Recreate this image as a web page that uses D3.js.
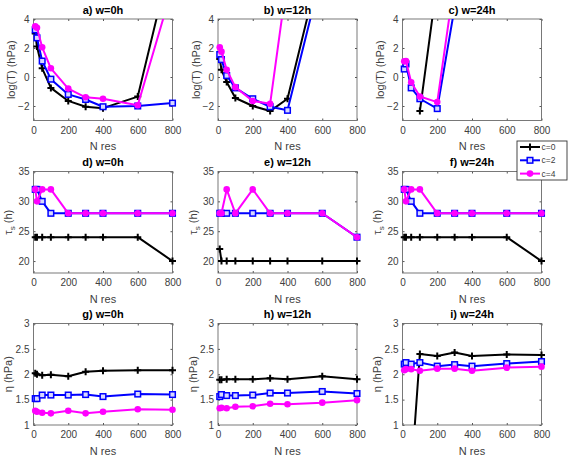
<!DOCTYPE html>
<html>
<head>
<meta charset="utf-8">
<script src="https://cdn.jsdelivr.net/npm/d3@7"></script>
<style>
  body { margin: 0; background: #fff; }
  svg { display: block; font-family: "Liberation Sans", Arial, sans-serif; }
</style>
</head>
<body>
<div id="chart"></div>
<script>
// x positions (number of reservoir units)
const nRes = [10, 20, 50, 100, 200, 300, 400, 600, 800];
const seriesNames = ['c=0', 'c=2', 'c=4'];

// row 1: log(T) (values above 4 leave the axes)
const logT_w0_c0 = [3.0, 2.1, 0.6, -0.75, -1.65, -2.05, -2.15, -1.35, 8.6];
const logT_w0_c2 = [3.25, 2.7, 1.1, -0.15, -1.2, -1.55, -2.05, -2.0, -1.8];
const logT_w0_c4 = [3.5, 3.4, 2.05, 0.6, -0.8, -1.4, -1.5, -1.95, 6.2];
const logT_w12_c0 = [1.25, 0.5, -0.35, -1.45, -2.0, -2.35, -1.5, 8.3, 18];
const logT_w12_c2 = [1.55, 1.2, 0.1, -0.75, -1.5, -2.05, -2.3, 7.3, 16];
const logT_w12_c4 = [2.05, 1.75, 0.5, -0.7, -1.65, -1.85, 6.9, 15, 22];
const logT_w24_c0 = [null, null, null, -2.35, 6.6, 15, 20, 25, 30];
const logT_w24_c2 = [0.55, 0.9, -0.75, -1.5, -2.18, 4.8, 12, 20, 25];
const logT_w24_c4 = [1.08, 1.1, -0.36, -1.35, -1.73, 6.7, 14, 20, 25];

// row 2: tau_s (h)
const tau_w0_c0 = [24, 24, 24, 24, 24, 24, 24, 24, 20];
const tau_w0_c2 = [32, 32, 30, 28, 28, 28, 28, 28, 28];
const tau_w0_c4 = [32, 30, 32, 32, 28, 28, 28, 28, 28];
const tau_w12_c0 = [22, 20, 20, 20, 20, 20, 20, 20, 20];
const tau_w12_c2 = [28, 28, 28, 28, 28, 28, 28, 28, 24];
const tau_w12_c4 = [28, 28, 32, 28, 32, 28, 28, 28, 24];
const tau_w24_c0 = [24, 24, 24, 24, 24, 24, 24, 24, 20];
const tau_w24_c2 = [32, 32, 30, 28, 28, 28, 28, 28, 28];
const tau_w24_c4 = [32, 30, 32, 32, 28, 28, 28, 28, 28];

// row 3: eta (hPa)
const eta_w0_c0 = [2.02, 2.0, 1.98, 1.99, 1.96, 2.05, 2.07, 2.08, 2.08];
const eta_w0_c2 = [1.52, 1.52, 1.59, 1.59, 1.59, 1.6, 1.56, 1.61, 1.6];
const eta_w0_c4 = [1.28, 1.26, 1.24, 1.23, 1.28, 1.23, 1.26, 1.31, 1.3];
const eta_w12_c0 = [1.89, 1.89, 1.9, 1.9, 1.9, 1.92, 1.9, 1.96, 1.9];
const eta_w12_c2 = [1.56, 1.6, 1.58, 1.58, 1.59, 1.63, 1.63, 1.66, 1.62];
const eta_w12_c4 = [1.33, 1.34, 1.33, 1.36, 1.37, 1.42, 1.41, 1.44, 1.49];
const eta_w24_c0 = [0, 0, 0, 2.4, 2.36, 2.43, 2.36, 2.39, 2.38];
const eta_w24_c2 = [2.2, 2.23, 2.2, 2.23, 2.16, 2.19, 2.16, 2.21, 2.25];
const eta_w24_c4 = [2.08, 2.1, 2.1, 2.07, 2.11, 2.11, 2.07, 2.13, 2.15];

const xTicks = [0, 200, 400, 600, 800];
const rowTicks = [[-2, 0, 2, 4], [20, 25, 30, 35], [1, 1.5, 2, 2.5, 3]];
const rowDomains = [[-3, 4], [18, 35], [1, 3]];

const panels = [
  { t: 'a) w=0h', r: 0, c: 0, s: [logT_w0_c0, logT_w0_c2, logT_w0_c4] },
  { t: 'b) w=12h', r: 0, c: 1, s: [logT_w12_c0, logT_w12_c2, logT_w12_c4] },
  { t: 'c) w=24h', r: 0, c: 2, s: [logT_w24_c0, logT_w24_c2, logT_w24_c4] },
  { t: 'd) w=0h', r: 1, c: 0, s: [tau_w0_c0, tau_w0_c2, tau_w0_c4] },
  { t: 'e) w=12h', r: 1, c: 1, s: [tau_w12_c0, tau_w12_c2, tau_w12_c4] },
  { t: 'f) w=24h', r: 1, c: 2, s: [tau_w24_c0, tau_w24_c2, tau_w24_c4] },
  { t: 'g) w=0h', r: 2, c: 0, s: [eta_w0_c0, eta_w0_c2, eta_w0_c4] },
  { t: 'h) w=12h', r: 2, c: 1, s: [eta_w12_c0, eta_w12_c2, eta_w12_c4] },
  { t: 'i) w=24h', r: 2, c: 2, s: [eta_w24_c0, eta_w24_c2, eta_w24_c4] },
];

const W = 570;
const H = 460;
const colLeft = [33.5, 218, 402.5];
const rowTop = [19, 171.5, 323.5];
const pw = 139;
const ph = 101.5;
const ylabOffset = [22, 25, 25];
const colors = ['#000000', '#0000ff', '#ff00ff'];
const axisColor = '#404040';

const svg = d3.select('#chart').append('svg').attr('width', W).attr('height', H);

function yLabel(g, r) {
  const t = g.append('text')
    .attr('transform', `translate(${-ylabOffset[r]},${ph / 2}) rotate(-90)`)
    .attr('text-anchor', 'middle')
    .attr('dy', '0.35em')
    .attr('font-size', 11)
    .attr('fill', axisColor);
  if (r === 0) t.text('log(T) (hPa)');
  else if (r === 1) {
    t.append('tspan').text('τ');
    t.append('tspan').attr('font-size', 8).attr('dy', 3).text('s');
    t.append('tspan').attr('dy', -3).text(' (h)');
  } else t.text('η (hPa)');
}

function marker(sel, k) {
  if (k === 0) {
    sel.append('path').attr('d', 'M-3.5,0H3.5M0,-3.5V3.5')
      .attr('stroke', colors[0]).attr('stroke-width', 2);
  } else if (k === 1) {
    sel.append('rect').attr('x', -2.8).attr('y', -2.8).attr('width', 5.6).attr('height', 5.6)
      .attr('fill', '#d8d8ff').attr('stroke', colors[1]).attr('stroke-width', 1.5);
  } else {
    sel.append('circle').attr('r', 3.3).attr('fill', colors[2]);
  }
}

panels.forEach((p, idx) => {
  const g = svg.append('g').attr('transform', `translate(${colLeft[p.c]},${rowTop[p.r]})`);
  const x = d3.scaleLinear().domain([0, 800]).range([0, pw]);
  const y = d3.scaleLinear().domain(rowDomains[p.r]).range([ph, 0]);

  g.append('rect').attr('width', pw).attr('height', ph).attr('fill', '#fff');

  // axes
  const fmt = d3.format('');
  g.append('g').attr('transform', `translate(0,${ph})`)
    .call(d3.axisBottom(x).tickValues(xTicks).tickSizeInner(-2).tickSizeOuter(0).tickPadding(6).tickFormat(fmt));
  g.append('g')
    .call(d3.axisLeft(y).tickValues(rowTicks[p.r]).tickSizeInner(-2).tickSizeOuter(0).tickPadding(4).tickFormat(fmt));
  g.append('g')
    .call(d3.axisTop(x).tickValues(xTicks).tickSizeInner(-2).tickSizeOuter(0).tickFormat(''));
  g.append('g').attr('transform', `translate(${pw},0)`)
    .call(d3.axisRight(y).tickValues(rowTicks[p.r]).tickSizeInner(-2).tickSizeOuter(0).tickFormat(''));
  g.selectAll('.domain').remove();
  g.selectAll('.tick line').attr('stroke', '#555');
  g.selectAll('.tick text').attr('font-size', 10).attr('fill', axisColor).attr('font-family', null);

  g.append('rect').attr('width', pw).attr('height', ph)
    .attr('fill', 'none').attr('stroke', '#6a6a6a').attr('stroke-width', 0.9);

  // data
  const clipId = `clip${idx}`;
  g.append('clipPath').attr('id', clipId).append('rect').attr('width', pw).attr('height', ph);
  const [y0, y1] = rowDomains[p.r];
  p.s.forEach((vals, k) => {
    const pts = nRes.map((n, i) => ({ n, v: vals[i] }));
    const line = d3.line().defined((d) => d.v !== null).x((d) => x(d.n)).y((d) => y(d.v));
    g.append('path').datum(pts)
      .attr('clip-path', `url(#${clipId})`)
      .attr('fill', 'none').attr('stroke', colors[k]).attr('stroke-width', 2)
      .attr('stroke-linejoin', 'round')
      .attr('d', line);
    g.selectAll(null)
      .data(pts.filter((d) => d.v !== null && d.v >= y0 && d.v <= y1))
      .join('g')
      .attr('transform', (d) => `translate(${x(d.n)},${y(d.v)})`)
      .each(function () { marker(d3.select(this), k); });
  });

  // title and labels
  g.append('text').attr('x', pw / 2).attr('y', -5.5).attr('text-anchor', 'middle')
    .attr('font-size', 11).attr('font-weight', 'bold').attr('fill', '#000').text(p.t);
  g.append('text').attr('x', pw / 2).attr('y', ph + 29.5).attr('text-anchor', 'middle')
    .attr('font-size', 11).attr('fill', axisColor).text('N res');
  yLabel(g, p.r);
});

// legend
const lg = svg.append('g').attr('transform', 'translate(517,141)');
lg.append('rect').attr('width', 50).attr('height', 39)
  .attr('fill', '#fff').attr('stroke', '#333').attr('stroke-width', 0.9);
seriesNames.forEach((name, k) => {
  const row = lg.append('g').attr('transform', `translate(0,${6 + k * 13.3})`);
  row.append('line').attr('x1', 3).attr('x2', 23).attr('stroke', colors[k]).attr('stroke-width', 2);
  const m = row.append('g').attr('transform', 'translate(13,0)');
  marker(m, k);
  row.append('text').attr('x', 24.5).attr('dy', '0.35em').attr('font-size', 8.5)
    .attr('fill', axisColor).text(name);
});
</script>
</body>
</html>
